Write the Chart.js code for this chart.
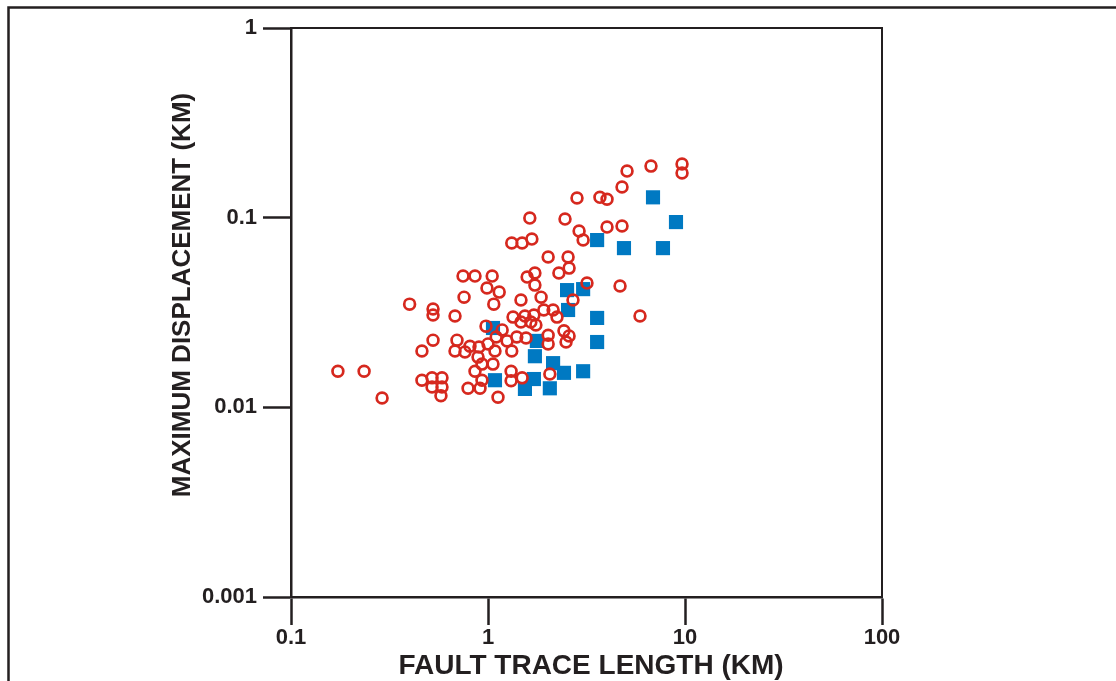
<!DOCTYPE html>
<html>
<head>
<meta charset="utf-8">
<script src="https://cdn.jsdelivr.net/npm/chart.js@4.4.1/dist/chart.umd.min.js"></script>
<style>
html,body{margin:0;padding:0;background:#fff;overflow:hidden}
canvas{display:block}
</style>
</head>
<body>
<canvas id="c" width="1116" height="681"></canvas>
<script>
// Open red circles: fault trace length (km) and maximum displacement (km)
const circleLength = [5.08, 6.72, 9.66, 9.66, 4.79, 2.83, 3.70, 4.02, 1.63, 2.46,
  2.90, 3.04, 4.02, 4.79, 1.32, 1.49, 1.67, 2.02, 2.55, 2.58,
  2.29, 0.747, 0.859, 1.05, 1.58, 1.73, 1.73, 3.18, 4.68, 0.988,
  1.14, 0.756, 1.47, 1.86, 2.70, 5.91, 0.40, 0.526, 0.526, 0.68,
  1.07, 0.977, 1.18, 1.34, 1.54, 1.71, 1.92, 2.14, 2.24, 1.47,
  1.65, 1.75, 1.40, 1.56, 1.25, 1.10, 2.02, 2.02, 2.43, 2.58,
  2.49, 0.526, 0.696, 0.462, 0.68, 0.764, 0.81, 0.90, 1.0, 1.085,
  1.32, 0.89, 0.932, 1.06, 0.859, 0.932, 0.792, 0.911, 1.124, 1.31,
  1.31, 1.49, 2.06, 0.584, 0.584, 0.577, 0.462, 0.52, 0.52, 0.173,
  0.235, 0.29];
const circleDisplacement = [0.176, 0.187, 0.192, 0.172, 0.145, 0.127, 0.128, 0.125, 0.0995, 0.0983,
  0.085, 0.0762, 0.0892, 0.0903, 0.0735, 0.0735, 0.0771, 0.062, 0.062, 0.0542,
  0.0511, 0.0492, 0.0492, 0.0492, 0.0486, 0.0511, 0.0441, 0.0452, 0.0436, 0.0426,
  0.0405, 0.0381, 0.0368, 0.0381, 0.0368, 0.0303, 0.035, 0.033, 0.0307, 0.0303,
  0.035, 0.0268, 0.0256, 0.0299, 0.0303, 0.0307, 0.0326, 0.0326, 0.0299, 0.0282,
  0.0282, 0.0272, 0.0235, 0.0232, 0.0224, 0.0235, 0.024, 0.0216, 0.0253, 0.0238,
  0.0221, 0.0226, 0.0226, 0.0198, 0.0198, 0.0196, 0.021, 0.0208, 0.0216, 0.0198,
  0.0198, 0.0184, 0.0169, 0.0169, 0.0155, 0.0139, 0.0126, 0.0126, 0.0113, 0.0155,
  0.0138, 0.0143, 0.015, 0.0143, 0.0128, 0.0115, 0.0139, 0.0143, 0.0128, 0.0155,
  0.0155, 0.0112];

// Filled blue squares
const squareLength = [6.88, 9.00, 3.58, 4.90, 7.73, 2.52, 3.04, 2.55, 3.58, 3.58,
  1.06, 1.77, 1.73, 2.14, 2.43, 3.04, 1.085, 1.71, 1.54, 2.06];
const squareDisplacement = [0.128, 0.0948, 0.0762, 0.0691, 0.0691, 0.0415, 0.042, 0.0326, 0.0296, 0.0221,
  0.0262, 0.0224, 0.0186, 0.0171, 0.0152, 0.0155, 0.0139, 0.0141, 0.0125, 0.0126];

const xTickValues = [0.1, 1, 10, 100];
const xTickLabels = ['0.1', '1', '10', '100'];
const yTickValues = [0.001, 0.01, 0.1, 1];
const yTickLabels = ['0.001', '0.01', '0.1', '1'];

const xTitle = 'FAULT TRACE LENGTH (KM)';
const yTitle = 'MAXIMUM DISPLACEMENT (KM)';

const INK = '#231f20';
const RED = '#d6281e';
const BLUE = '#0079c2';
const FONT = "'Liberation Sans', Arial, Helvetica, sans-serif";

Chart.defaults.font.family = FONT;
Chart.defaults.font.weight = 'bold';
Chart.defaults.color = INK;

const framePlugin = {
  id: 'frame',
  beforeDraw(chart) {
    const ctx = chart.ctx;
    ctx.save();
    ctx.strokeStyle = INK;
    ctx.lineWidth = 2.5;
    ctx.beginPath();
    ctx.moveTo(8.5, 681);
    ctx.lineTo(8.5, 7.5);
    ctx.lineTo(1116, 7.5);
    ctx.stroke();
    ctx.restore();
  },
  afterDraw(chart) {
    const a = chart.chartArea;
    const ctx = chart.ctx;
    ctx.save();
    ctx.strokeStyle = INK;
    ctx.lineWidth = 2;
    ctx.beginPath();
    ctx.moveTo(a.left, a.top);
    ctx.lineTo(a.right, a.top);
    ctx.lineTo(a.right, a.bottom);
    ctx.stroke();
    ctx.fillStyle = INK;
    ctx.textAlign = 'center';
    ctx.textBaseline = 'middle';
    // horizontal axis title
    ctx.font = 'bold 28px ' + FONT;
    ctx.fillText(xTitle, 591, 666);
    // vertical axis title (slightly above the axis centre, as in the original)
    ctx.translate(183, 295);
    ctx.rotate(-Math.PI / 2);
    ctx.font = 'bold 26px ' + FONT;
    ctx.fillText(yTitle, 0, 0);
    ctx.restore();
  }
};

function toPoints(xs, ys) { return xs.map((x, i) => ({x: x, y: ys[i]})); }

new Chart(document.getElementById('c'), {
  type: 'scatter',
  data: {
    datasets: [
      {
        label: 'circles',
        data: toPoints(circleLength, circleDisplacement),
        pointStyle: 'circle',
        pointRadius: 5.4,
        pointHoverRadius: 5.4,
        borderWidth: 2.7,
        borderColor: RED,
        backgroundColor: 'rgba(0,0,0,0)'
      },
      {
        label: 'squares',
        data: toPoints(squareLength, squareDisplacement),
        pointStyle: 'rect',
        pointRadius: 10,
        pointHoverRadius: 10,
        borderWidth: 0,
        borderColor: BLUE,
        backgroundColor: BLUE
      }
    ]
  },
  options: {
    responsive: false,
    devicePixelRatio: 1,
    animation: false,
    events: [],
    layout: { padding: { left: 160, top: 28, right: 234, bottom: 0 } },
    plugins: { legend: { display: false }, tooltip: { enabled: false } },
    scales: {
      x: {
        type: 'logarithmic',
        min: 0.1, max: 100,
        afterBuildTicks: s => { s.ticks = xTickValues.map(v => ({value: v})); },
        afterFit: s => { s.height = 84; },
        grid: { drawOnChartArea: false, drawTicks: true, tickLength: 28, tickWidth: 2.5, tickColor: INK },
        border: { display: true, width: 2.5, color: INK },
        ticks: {
          autoSkip: false, maxRotation: 0, padding: 2,
          font: { size: 22, weight: 'bold', lineHeight: 1 },
          color: INK,
          callback: v => { const i = xTickValues.indexOf(v); return i >= 0 ? xTickLabels[i] : ''; }
        },
        title: { display: false }
      },
      y: {
        type: 'logarithmic',
        min: 0.001, max: 1,
        afterBuildTicks: s => { s.ticks = yTickValues.map(v => ({value: v})); },
        afterFit: s => { s.width = 131; },
        grid: { drawOnChartArea: false, drawTicks: true, tickLength: 28, tickWidth: 2.5, tickColor: INK },
        border: { display: true, width: 2.5, color: INK },
        ticks: {
          autoSkip: false, padding: 6,
          font: { size: 22, weight: 'bold', lineHeight: 1 },
          color: INK,
          callback: v => { const i = yTickValues.indexOf(v); return i >= 0 ? yTickLabels[i] : ''; }
        },
        title: { display: false }
      }
    }
  },
  plugins: [framePlugin]
});
</script>
</body>
</html>
